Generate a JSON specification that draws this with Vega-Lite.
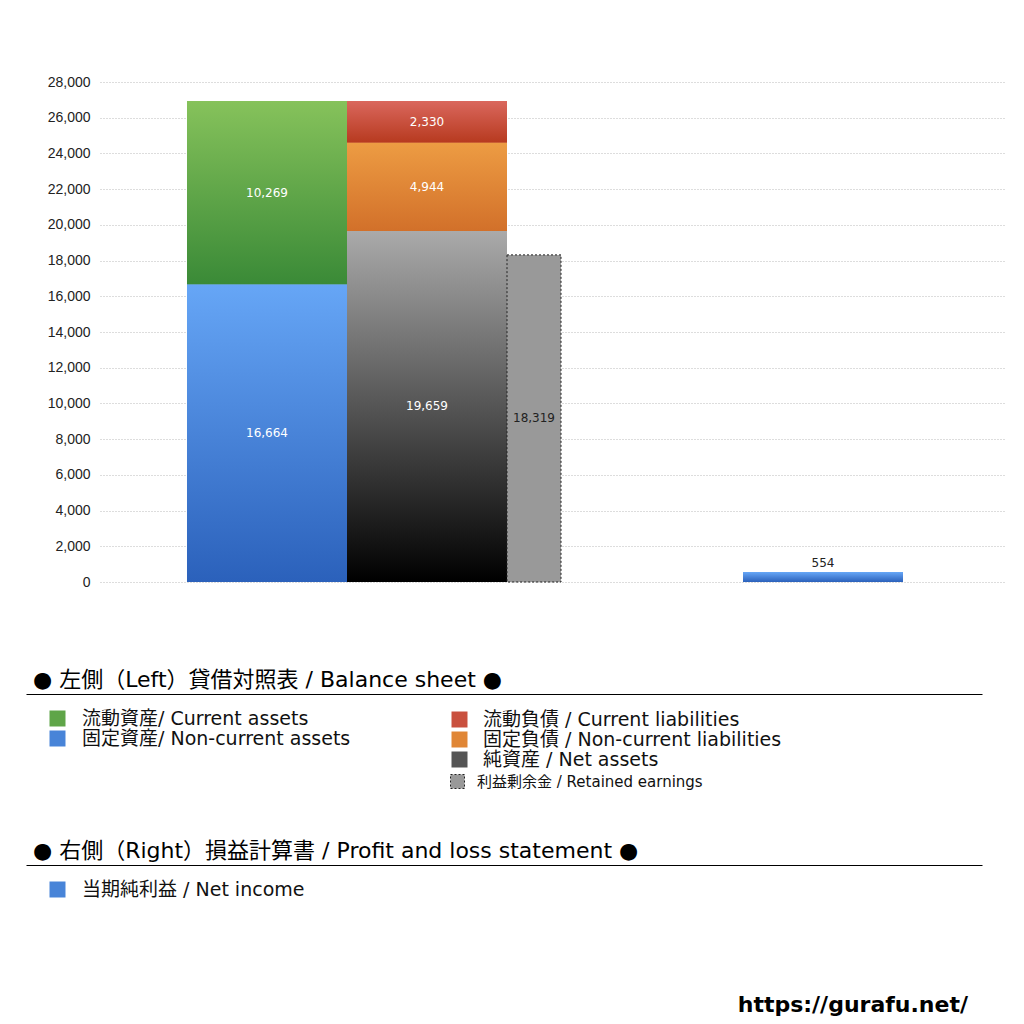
{
  "$schema": "https://vega.github.io/schema/vega-lite/v6.json",
  "width": 905,
  "height": 500,
  "autosize": "none",
  "padding": {"left": 100, "top": 82, "right": 19, "bottom": 442},
  "background": "white",
  "title": {
    "text": "https://gurafu.net/",
    "orient": "bottom",
    "anchor": "end",
    "frame": "group",
    "offset": 95,
    "dx": -37,
    "fontSize": 22,
    "font": "DejaVu Sans",
    "fontWeight": "bold",
    "color": "black"
  },
  "config": {
    "view": {"stroke": null},
    "axisY": {
      "labelFont": "Liberation Sans",
      "labelFontSize": 14,
      "labelColor": "#222",
      "labelPadding": 10,
      "ticks": false,
      "domain": false,
      "gridColor": "#bbbbbb",
      "gridDash": [1, 2],
      "tickCount": 15,
      "title": null
    },
    "legend": {
      "orient": "none",
      "padding": 0,
      "labelFont": "DejaVu Sans, Noto Sans CJK JP",
      "labelFontSize": 19,
      "labelColor": "#111",
      "labelLimit": 1000,
      "titleFont": "DejaVu Sans, Noto Sans CJK JP",
      "titleFontSize": 22,
      "titleFontWeight": "normal",
      "titleColor": "black",
      "titleLimit": 1000,
      "symbolType": "square",
      "symbolSize": 256,
      "rowPadding": -3
    },
    "text": {"font": "DejaVu Sans", "fontSize": 12}
  },
  "resolve": {
    "scale": {"x": "independent", "color": "independent"},
    "axis": {"x": "independent"},
    "legend": {"color": "independent"}
  },
  "layer": [
    {
      "data": {
        "values": [
          {"column": "当期純利益", "item": "当期純利益 / Net income", "value": 554}
        ]
      },
      "encoding": {
        "x": {
          "field": "column",
          "type": "nominal",
          "scale": {"paddingInner": 0.5705, "paddingOuter": 1, "align": 0.863087},
          "axis": null
        }
      },
      "layer": [
        {
          "mark": {"type": "bar"},
          "encoding": {
            "y": {"field": "value", "type": "quantitative", "scale": {"domain": [0, 28000]}, "axis": {"values": [0, 2000, 4000, 6000, 8000, 10000, 12000, 14000, 16000, 18000, 20000, 22000, 24000, 26000, 28000], "tickCount": 15}},
            "color": {
              "field": "item",
              "type": "nominal",
              "scale": {"domain": ["当期純利益 / Net income"], "range": ["#4884d8"]},
              "legend": {
                "title": "● 右側（Right）損益計算書 / Profit and loss statement ●",
                "legendX": -67,
                "legendY": 759,
                "titlePadding": 17,
                "symbolOffset": 15,
                "labelOffset": 15
              }
            }
          }
        },
        {
          "mark": {"type": "bar", "color": {"gradient": "linear", "x1": 0, "y1": 0, "x2": 0, "y2": 1, "stops": [{"offset": 0, "color": "#66a6f6"}, {"offset": 1, "color": "#2b61bb"}]}},
          "encoding": {"y": {"field": "value", "type": "quantitative"}}
        },
        {
          "mark": {"type": "text", "color": "#222222", "baseline": "bottom", "dy": -2},
          "encoding": {
            "y": {"field": "value", "type": "quantitative"},
            "text": {"field": "value", "type": "quantitative", "format": ","}
          }
        }
      ]
    },
    {
      "data": {
        "values": [
          {"column": "資産", "item": "流動資産/ Current assets", "value": 10269, "rank": 2},
          {"column": "資産", "item": "固定資産/ Non-current assets", "value": 16664, "rank": 1}
        ]
      },
      "transform": [
        {"stack": "value", "groupby": ["column"], "sort": [{"field": "rank", "order": "ascending"}], "as": ["v0", "v1"]}
      ],
      "encoding": {
        "x": {
          "field": "column",
          "type": "nominal",
          "scale": {"range": [-74, 882], "paddingInner": 0.59799, "paddingOuter": 1, "align": 0.20226},
          "axis": {"orient": "bottom", "offset": 112, "labels": false, "ticks": false, "grid": false, "title": null, "domainColor": "black", "domainWidth": 1}
        }
      },
      "layer": [
        {
          "mark": {"type": "bar"},
          "encoding": {
            "y": {"field": "v0", "type": "quantitative", "axis": {"values": [0, 2000, 4000, 6000, 8000, 10000, 12000, 14000, 16000, 18000, 20000, 22000, 24000, 26000, 28000], "tickCount": 15}},
            "y2": {"field": "v1"},
            "color": {
              "field": "item",
              "type": "nominal",
              "scale": {
                "domain": ["流動資産/ Current assets", "固定資産/ Non-current assets"],
                "range": ["#5fa548", "#4884d8"]
              },
              "legend": {
                "title": "● 左側（Left）貸借対照表 / Balance sheet ●",
                "legendX": -67,
                "legendY": 588,
                "titlePadding": 17,
                "symbolOffset": 15,
                "labelOffset": 15
              }
            }
          }
        },
        {
          "transform": [{"filter": "datum.rank === 2"}],
          "mark": {"type": "bar", "color": {"gradient": "linear", "x1": 0, "y1": 0, "x2": 0, "y2": 1, "stops": [{"offset": 0, "color": "#86c25b"}, {"offset": 1, "color": "#3a8a37"}]}},
          "encoding": {"y": {"field": "v0", "type": "quantitative"}, "y2": {"field": "v1"}}
        },
        {
          "transform": [{"filter": "datum.rank === 1"}],
          "mark": {"type": "bar", "color": {"gradient": "linear", "x1": 0, "y1": 0, "x2": 0, "y2": 1, "stops": [{"offset": 0, "color": "#66a6f6"}, {"offset": 1, "color": "#2b61bb"}]}},
          "encoding": {"y": {"field": "v0", "type": "quantitative"}, "y2": {"field": "v1"}}
        },
        {
          "mark": {"type": "text", "color": "white"},
          "encoding": {
            "y": {"field": "value", "type": "quantitative", "stack": "zero", "bandPosition": 0.5},
            "order": {"field": "rank"},
            "detail": {"field": "item"},
            "text": {"field": "value", "type": "quantitative", "format": ","}
          }
        }
      ]
    },
    {
      "data": {
        "values": [
          {"column": "負債・純資産", "item": "流動負債 /  Current liabilities", "value": 2330, "rank": 3},
          {"column": "負債・純資産", "item": "固定負債 / Non-current liabilities", "value": 4944, "rank": 2},
          {"column": "負債・純資産", "item": "純資産 / Net assets", "value": 19659, "rank": 1}
        ]
      },
      "transform": [
        {"stack": "value", "groupby": ["column"], "sort": [{"field": "rank", "order": "ascending"}], "as": ["v0", "v1"]}
      ],
      "encoding": {
        "x": {
          "field": "column",
          "type": "nominal",
          "scale": {"range": [-74, 882], "paddingInner": 0.59799, "paddingOuter": 1, "align": 0.40327},
          "axis": {"orient": "bottom", "offset": 283, "labels": false, "ticks": false, "grid": false, "title": null, "domainColor": "black", "domainWidth": 1}
        }
      },
      "layer": [
        {
          "mark": {"type": "bar"},
          "encoding": {
            "y": {"field": "v0", "type": "quantitative", "axis": {"values": [0, 2000, 4000, 6000, 8000, 10000, 12000, 14000, 16000, 18000, 20000, 22000, 24000, 26000, 28000], "tickCount": 15}},
            "y2": {"field": "v1"},
            "color": {
              "field": "item",
              "type": "nominal",
              "scale": {
                "domain": ["流動負債 /  Current liabilities", "固定負債 / Non-current liabilities", "純資産 / Net assets"],
                "range": ["#c9503e", "#e08636", "#555555"]
              },
              "legend": {
                "title": null,
                "legendX": 350,
                "legendY": 628,
                "labelOffset": 14
              }
            }
          }
        },
        {
          "transform": [{"filter": "datum.rank === 3"}],
          "mark": {"type": "bar", "color": {"gradient": "linear", "x1": 0, "y1": 0, "x2": 0, "y2": 1, "stops": [{"offset": 0, "color": "#da675d"}, {"offset": 1, "color": "#b73a1f"}]}},
          "encoding": {"y": {"field": "v0", "type": "quantitative"}, "y2": {"field": "v1"}}
        },
        {
          "transform": [{"filter": "datum.rank === 2"}],
          "mark": {"type": "bar", "color": {"gradient": "linear", "x1": 0, "y1": 0, "x2": 0, "y2": 1, "stops": [{"offset": 0, "color": "#ed9c43"}, {"offset": 1, "color": "#d2702a"}]}},
          "encoding": {"y": {"field": "v0", "type": "quantitative"}, "y2": {"field": "v1"}}
        },
        {
          "transform": [{"filter": "datum.rank === 1"}],
          "mark": {"type": "bar", "color": {"gradient": "linear", "x1": 0, "y1": 0, "x2": 0, "y2": 1, "stops": [{"offset": 0, "color": "#aaaaaa"}, {"offset": 1, "color": "#000000"}]}},
          "encoding": {"y": {"field": "v0", "type": "quantitative"}, "y2": {"field": "v1"}}
        },
        {
          "mark": {"type": "text", "color": "white"},
          "encoding": {
            "y": {"field": "value", "type": "quantitative", "stack": "zero", "bandPosition": 0.5},
            "order": {"field": "rank"},
            "detail": {"field": "item"},
            "text": {"field": "value", "type": "quantitative", "format": ","}
          }
        }
      ]
    },
    {
      "data": {
        "values": [
          {"column": "利益剰余金", "item": "利益剰余金 / Retained earnings", "value": 18319}
        ]
      },
      "encoding": {
        "x": {
          "field": "column",
          "type": "nominal",
          "scale": {"paddingInner": 0.87309, "paddingOuter": 1, "align": 0.478261},
          "axis": null
        }
      },
      "layer": [
        {
          "mark": {"type": "bar", "stroke": "#222222", "strokeWidth": 1, "strokeDash": [2, 2]},
          "encoding": {
            "y": {"field": "value", "type": "quantitative", "stack": "zero", "axis": {"values": [0, 2000, 4000, 6000, 8000, 10000, 12000, 14000, 16000, 18000, 20000, 22000, 24000, 26000, 28000], "tickCount": 15}},
            "color": {
              "field": "item",
              "type": "nominal",
              "scale": {"domain": ["利益剰余金 / Retained earnings"], "range": ["#999999"]},
              "legend": {
                "title": null,
                "legendX": 350,
                "legendY": 692,
                "labelFontSize": 15,
                "symbolSize": 196,
                "labelOffset": 12,
                "symbolStrokeColor": "#222222",
                "symbolStrokeWidth": 1,
                "symbolDash": [2, 2]
              }
            }
          }
        },
        {
          "mark": {"type": "text", "color": "#222222"},
          "encoding": {
            "y": {"field": "value", "type": "quantitative", "stack": "zero", "bandPosition": 0.5},
            "detail": {"field": "item"},
            "text": {"field": "value", "type": "quantitative", "format": ","}
          }
        }
      ]
    }
  ]
}
